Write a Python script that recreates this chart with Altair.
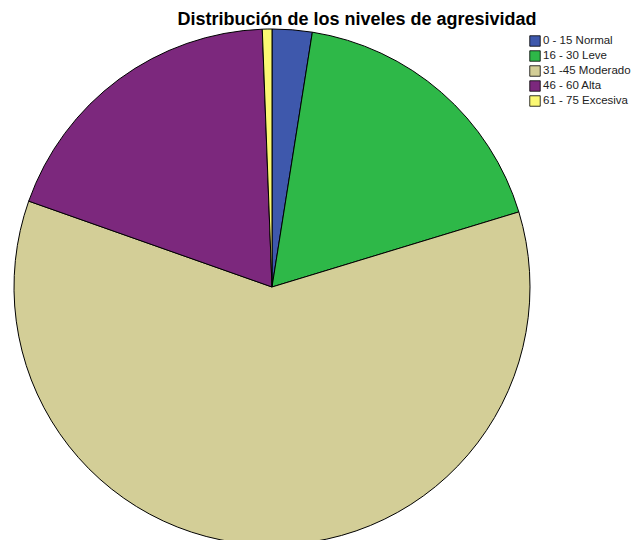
import altair as alt
import pandas as pd

categories = ["0 - 15 Normal", "16 - 30 Leve", "31 -45 Moderado", "46 - 60 Alta", "61 - 75 Excesiva"]
percent = [2.5, 17.8, 60.1, 19.0, 0.6]
colors = ["#3E58AC", "#2EB848", "#D3CE97", "#7C287D", "#FBF873"]

df = pd.DataFrame({"nivel": categories, "pct": percent, "orden": list(range(len(categories)))})

pie = alt.Chart(df).mark_arc(stroke="black", strokeWidth=1, outerRadius=258).encode(
    theta=alt.Theta("pct:Q", stack=True),
    order=alt.Order("orden:Q"),
    color=alt.Color(
        "nivel:N",
        sort=categories,
        scale=alt.Scale(domain=categories, range=colors),
        legend=alt.Legend(
            title=None, orient="none", legendX=521, legendY=27,
            symbolType="square", symbolSize=110, symbolStrokeColor="black",
            symbolStrokeWidth=0.8, labelFont="Liberation Sans", labelFontSize=11.5,
            labelColor="#222222", rowPadding=1, symbolOffset=0, labelOffset=2,
            labelLimit=200,
        ),
    ),
    x=alt.value(264),
    y=alt.value(279),
)

title = alt.Chart(pd.DataFrame({"t": ["Distribución de los niveles de agresividad"]})).mark_text(
    font="Liberation Sans", fontSize=18, fontWeight="bold", color="black", align="center", baseline="alphabetic"
).encode(text="t:N", x=alt.value(349), y=alt.value(17))

chart = alt.layer(pie, title).properties(
    width=625, height=532, autosize=alt.AutoSizeParams(type="none"), padding=0, background="white"
).configure_view(strokeWidth=0, stroke="transparent")

chart.save("out.html", embed_options={"renderer": "svg", "actions": False})
